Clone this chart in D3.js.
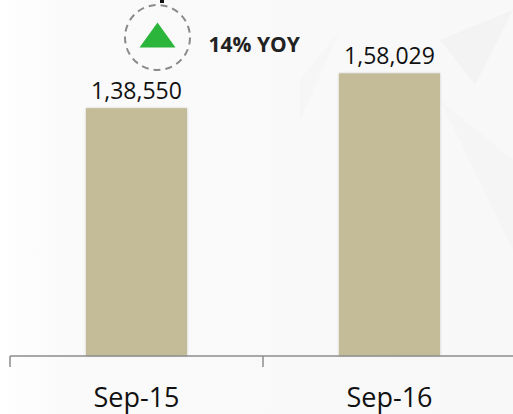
<!DOCTYPE html>
<meta charset="utf-8">
<script src="https://cdn.jsdelivr.net/npm/d3@7"></script>
<style>
  body { margin: 0; background: #fff; }
  text { font-family: "Open Sans", sans-serif; fill: #111; }
</style>
<div id="viz"></div>
<script>
  // data
  const categories = ["Sep-15", "Sep-16"];
  const values = [138550, 158029];
  const valueLabels = ["1,38,550", "1,58,029"];
  const yoyLabel = "14% YOY";

  const W = 513, H = 414;
  const axisY = 356;

  const svg = d3.select("#viz").append("svg")
    .attr("width", W).attr("height", H);

  // background: faint gradient + watermark triangles
  const defs = svg.append("defs");
  const grad = defs.append("linearGradient").attr("id", "bg");
  grad.append("stop").attr("offset", "0%").attr("stop-color", "#ffffff");
  grad.append("stop").attr("offset", "12%").attr("stop-color", "#fafafa");
  grad.append("stop").attr("offset", "100%").attr("stop-color", "#f8f8f8");
  const shadow = defs.append("filter").attr("id", "shadow")
    .attr("x", "-10%").attr("width", "120%");
  shadow.append("feDropShadow").attr("dx", 0).attr("dy", 0)
    .attr("stdDeviation", 1.2).attr("flood-color", "#000").attr("flood-opacity", 0.2);

  svg.append("rect").attr("width", W).attr("height", H).attr("fill", "url(#bg)");
  const wm = svg.append("g").attr("fill", "#f3f3f3");
  wm.append("path").attr("d", "M440,40 L513,10 L475,85 Z");
  wm.append("path").attr("d", "M440,100 L513,250 L513,160 Z").attr("opacity", 0.6);
  wm.append("path").attr("d", "M300,120 L340,30 L300,80 Z").attr("opacity", 0.4);

  // scales
  const x = d3.scaleBand()
    .domain(categories)
    .range([10, 516])
    .paddingInner(0.6)
    .paddingOuter(0.3);

  const y = d3.scaleLinear()
    .domain([0, 180000])
    .range([axisY, 34]);

  // bars
  svg.selectAll(".bar")
    .data(values)
    .join("rect")
      .attr("class", "bar")
      .attr("x", (d, i) => x(categories[i]))
      .attr("width", x.bandwidth())
      .attr("y", d => y(d))
      .attr("height", d => y(0) - y(d))
      .attr("fill", "#c4bc98")
      .attr("filter", "url(#shadow)");

  // value labels
  svg.selectAll(".val")
    .data(values)
    .join("text")
      .attr("class", "val")
      .attr("x", (d, i) => x(categories[i]) + x.bandwidth() / 2)
      .attr("y", d => y(d) - 9)
      .attr("text-anchor", "middle")
      .style("font-size", "23px")
      .text((d, i) => valueLabels[i]);

  // x axis: line + ticks at category boundaries
  const axis = svg.append("g").attr("stroke", "#8c8c8c").attr("stroke-width", 1.5);
  axis.append("line")
    .attr("x1", x.range()[0]).attr("x2", x.range()[1])
    .attr("y1", axisY).attr("y2", axisY);
  const bounds = d3.range(categories.length + 1).map(i => x.range()[0] + i * x.step());
  axis.selectAll(".tick")
    .data(bounds)
    .join("line")
      .attr("x1", d => d).attr("x2", d => d)
      .attr("y1", axisY).attr("y2", axisY + 11);

  svg.selectAll(".cat")
    .data(categories)
    .join("text")
      .attr("class", "cat")
      .attr("x", d => x(d) + x.bandwidth() / 2)
      .attr("y", 407)
      .attr("text-anchor", "middle")
      .style("font-size", "27px")
      .text(d => d);

  // YOY annotation
  const cx = x(categories[0]) + x.bandwidth() / 2 + 21, cy = 37.5;
  svg.append("circle")
    .attr("cx", cx).attr("cy", cy).attr("r", 32.5)
    .attr("fill", "none")
    .attr("stroke", "#8a8a8a")
    .attr("stroke-width", 2)
    .attr("stroke-dasharray", "7,5");
  svg.append("path")
    .attr("d", `M${cx - 18},${cy + 10} L${cx},${cy - 15} L${cx + 18},${cy + 10} Z`)
    .attr("fill", "#2bb53a");
  svg.append("text")
    .attr("x", cx + 51).attr("y", 52)
    .style("font-size", "21px")
    .style("font-weight", "bold")
    .style("fill", "#222")
    .text(yoyLabel);

  // cut-off title descender at top edge
  svg.append("rect").attr("x", 160).attr("y", 0).attr("width", 4).attr("height", 3).attr("fill", "#111");
</script>
